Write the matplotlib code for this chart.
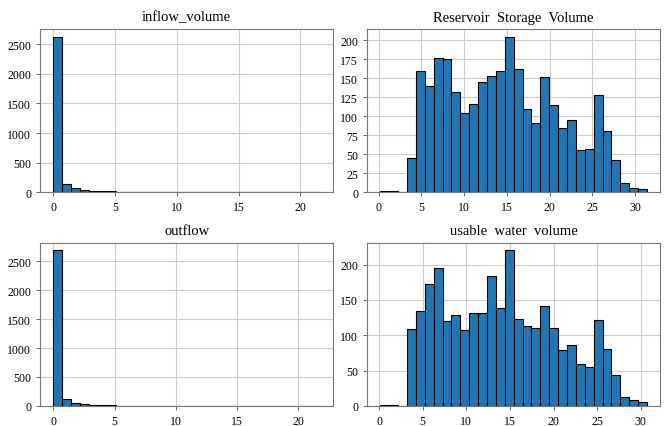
import numpy as np
import matplotlib
matplotlib.use('Agg')
import matplotlib.pyplot as plt

# histogram counts (30 bins each)
titles = ['inflow_volume', 'Reservoir  Storage  Volume', 'outflow', 'usable  water  volume']

inflow_range = (0.0, 21.6)
inflow_counts = [2630, 141, 68, 34, 15, 12, 11, 9, 6, 4, 2, 1, 7, 1, 0,
                 1, 0, 0, 0, 7, 1, 0, 0, 0, 0, 0, 0, 0, 0, 1]

storage_range = (0.2, 31.4)
storage_counts = [1, 1, 0, 45, 160, 140, 177, 176, 132, 104, 116, 145, 153, 160, 205,
                  163, 110, 91, 152, 115, 84, 95, 55, 57, 128, 81, 42, 12, 6, 4]

outflow_range = (0.0, 21.8)
outflow_counts = [2685, 118, 47, 32, 12, 18, 8, 6, 5, 4, 2, 1, 1, 3, 1,
                  2, 1, 4, 1, 3, 1, 0, 0, 0, 0, 0, 0, 0, 0, 1]

usable_range = (0.15, 30.7)
usable_counts = [1, 1, 0, 109, 134, 173, 195, 120, 128, 108, 132, 131, 184, 139, 220,
                 123, 113, 110, 142, 111, 79, 86, 60, 55, 122, 81, 44, 13, 8, 5]

datasets = [(inflow_range, inflow_counts), (storage_range, storage_counts),
            (outflow_range, outflow_counts), (usable_range, usable_counts)]

plt.rcParams['font.family'] = ['Liberation Serif', 'DejaVu Serif']

fig, axes = plt.subplots(2, 2, figsize=(6.69, 4.27), dpi=100)
fig.subplots_adjust(left=0.06, right=0.987, top=0.93, bottom=0.047, hspace=0.31, wspace=0.115)

for ax, title, (rng, counts) in zip(axes.flat, titles, datasets):
    edges = np.linspace(rng[0], rng[1], len(counts) + 1)
    ax.hist(edges[:-1], bins=edges, weights=counts, color='#1f77b4',
            edgecolor='black', linewidth=0.8)
    ax.set_title(title, fontsize=10.5)
    ax.grid(True, color='#cccccc', linewidth=0.8)
    ax.set_axisbelow(True)
    ax.tick_params(labelsize=8.5, length=3, width=0.6, color='#555555')
    for s in ax.spines.values():
        s.set_color('#777777')
        s.set_linewidth(0.8)

axes[0, 1].set_yticks(np.arange(0, 201, 25))

plt.savefig('out.png', dpi=100)
